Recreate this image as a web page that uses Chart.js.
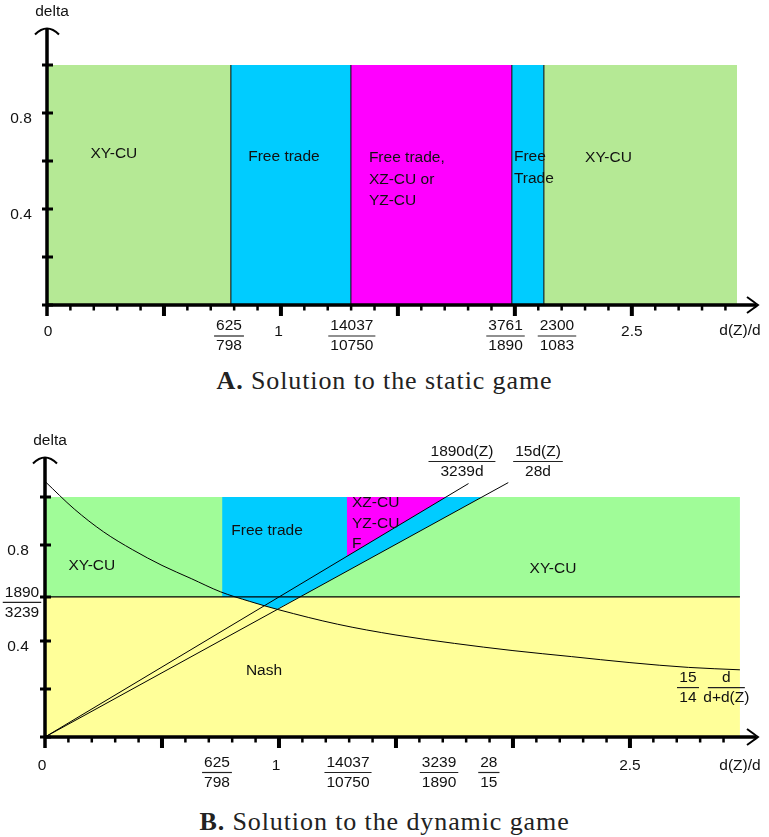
<!DOCTYPE html>
<html>
<head>
<meta charset="utf-8">
<script src="https://cdn.jsdelivr.net/npm/chart.js@4.4.0/dist/chart.umd.min.js"></script>
<style>
body{margin:0;background:#fff;width:769px;height:837px;position:relative;overflow:hidden}
canvas{position:absolute;left:0}
#chartA{top:0}
#chartB{top:400px}
.cap{position:absolute;left:0;width:769px;text-align:center;font-family:"Liberation Serif","Times New Roman",serif;font-size:26px;letter-spacing:0.9px;color:#222;line-height:30px}
</style>
</head>
<body>
<canvas id="chartA" width="769" height="360"></canvas>
<div class="cap" style="top:366px"><b>A.</b> Solution to the static game</div>
<canvas id="chartB" width="769" height="390"></canvas>
<div class="cap" style="top:807px"><b>B.</b> Solution to the dynamic game</div>
<script>
// ---------- panel A : static game ----------
const staticBounds = [0, 0.786, 1.299, 1.987, 2.124, 2.95];
const staticColors = ['#b5e995', '#00ccff', '#ff00ff', '#00ccff', '#b5e995'];
const staticTickPos = [0, 0.778, 0.99, 1.303, 1.96, 2.18, 2.5];
const staticTickText = ['0', ['625', '798'], '1', ['14037', '10750'], ['3761', '1890'], ['2300', '1083'], '2.5'];
const staticYTicks = [0, 0.2, 0.4, 0.6, 0.8, 1];
const staticYLabels = [[0.8, '0.8'], [0.4, '0.4']];

// ---------- panel B : dynamic game ----------
const nashLevel = 0.5835;          // 1890/3239
const dynRight = 2.97;
// 15/14 * d/(d+d(Z))
const curveX = [0, 0.125, 0.25, 0.375, 0.5, 0.625, 0.75, 0.875, 1, 1.25, 1.5, 1.75, 2, 2.25, 2.5, 2.75, 2.97];
const curveY = [1.065, 0.95, 0.855, 0.78, 0.715, 0.66, 0.605, 0.565, 0.53, 0.47, 0.425, 0.39, 0.36, 0.335, 0.31, 0.29, 0.28];
// 1890d(Z)/3239d and 15d(Z)/28d
const steepX = [0, 1.81], steepY = [0, 1.056];
const flatX = [0, 1.98], flatY = [0, 1.06];
// region corners
const blueTopX = [0.757, 1.867], blueTopY = [1, 1];
const blueLowX = [0.757, 1.089, 1.867], blueLowY = [nashLevel, nashLevel, 1];
const magTopX = [1.29, 1.714], magTopY = [1, 1];
const magLowX = [1.29, 1.714], magLowY = [0.753, 1];
const diaTopX = [0.817, 1.089], diaTopY = [nashLevel, nashLevel];
const diaLowX = [0.817, 0.875, 0.99, 1.089], diaLowY = [nashLevel, 0.565, 0.532, nashLevel];
const dynTickPos = [0, 0.735, 0.987, 1.295, 1.684, 1.897, 2.5];
const dynTickText = ['0', ['625', '798'], '1', ['14037', '10750'], ['3239', '1890'], ['28', '15'], '2.5'];
const dynYTicks = [0, 0.2, 0.4, nashLevel, 0.8, 1];
const dynYLabels = [[0.8, '0.8'], [nashLevel, ['1890', '3239']], [0.4, '0.4']];

// common x ticks
const xMajor = [0.5, 1, 1.5, 2, 2.5];
const xMinor = [0.1, 0.2, 0.3, 0.4, 0.6, 0.7, 0.8, 0.9, 1.1, 1.2, 1.3, 1.4, 1.6, 1.7, 1.8, 1.9, 2.1, 2.2, 2.3, 2.4, 2.6, 2.7, 2.8, 2.9];

const FONT = '15.5px "Liberation Sans", Arial, sans-serif';
const INK = '#111';

function pts(xs, ys) {
    return xs.map((v, i) => ({x: v, y: ys[i]}));
}

function line(data, width) {
    return {data: data, borderColor: '#000', borderWidth: width, pointRadius: 0, fill: false};
}

function area(data, color, fill) {
    return {data: data, borderWidth: 0, borderColor: 'rgba(0,0,0,0)', backgroundColor: color, pointRadius: 0, fill: fill};
}

function putText(ctx, s, px, py, align) {
    ctx.textAlign = align || 'center';
    ctx.textBaseline = 'middle';
    ctx.fillText(s, px, py);
}

function putFrac(ctx, num, den, px, py, lw) {
    const w = lw || Math.max(ctx.measureText(num).width, ctx.measureText(den).width) + 4;
    putText(ctx, num, px, py - 9.5);
    putText(ctx, den, px, py + 10.5);
    ctx.beginPath();
    ctx.moveTo(px - w / 2, py + 0.5);
    ctx.lineTo(px + w / 2, py + 0.5);
    ctx.lineWidth = 1.2;
    ctx.stroke();
}

// axes, arrows, ticks and all the text
function decor(spec) {
    return {
        id: 'decor',
        afterDatasetsDraw(chart) {
            const ctx = chart.ctx;
            const sx = chart.scales.x, sy = chart.scales.y;
            const x0 = sx.getPixelForValue(0), y0 = sy.getPixelForValue(0);
            const xEnd = sx.getPixelForValue(sx.max), yTop = sy.getPixelForValue(sy.max);
            ctx.save();
            ctx.strokeStyle = '#000';
            ctx.lineCap = 'butt';

            ctx.lineWidth = 3.5;
            ctx.beginPath();
            ctx.moveTo(x0, y0); ctx.lineTo(xEnd - 1, y0);
            ctx.moveTo(x0, y0 + 11); ctx.lineTo(x0, yTop);
            ctx.stroke();

            ctx.lineWidth = 2;
            ctx.beginPath();
            ctx.moveTo(xEnd - 10, y0 - 8);
            ctx.quadraticCurveTo(xEnd - 3, y0 - 3, xEnd + 1, y0);
            ctx.quadraticCurveTo(xEnd - 3, y0 + 3, xEnd - 10, y0 + 8);
            ctx.moveTo(x0 - 12, yTop + 5.5);
            ctx.quadraticCurveTo(x0, yTop - 6.5, x0 + 12, yTop + 5.5);
            ctx.stroke();

            // x ticks
            ctx.lineWidth = 4;
            ctx.beginPath();
            xMajor.forEach(v => { const p = sx.getPixelForValue(v); ctx.moveTo(p, y0); ctx.lineTo(p, y0 + 11); });
            ctx.stroke();
            ctx.lineWidth = 2.5;
            ctx.beginPath();
            xMinor.forEach(v => { const p = sx.getPixelForValue(v); ctx.moveTo(p, y0); ctx.lineTo(p, y0 + 5.5); });
            ctx.stroke();
            // y ticks
            ctx.lineWidth = 3;
            ctx.beginPath();
            spec.yTicks.forEach(v => { const p = sy.getPixelForValue(v); ctx.moveTo(x0 - 5, p); ctx.lineTo(x0 + 6, p); });
            ctx.stroke();

            ctx.font = FONT;
            ctx.fillStyle = INK;
            ctx.strokeStyle = '#222';
            spec.tickPos.forEach((v, i) => {
                const p = sx.getPixelForValue(v) + (v === 0 ? spec.zeroShift : 0);
                const t = spec.tickText[i];
                if (Array.isArray(t)) putFrac(ctx, t[0], t[1], p, y0 + spec.fracOff);
                else putText(ctx, t, p, y0 + spec.textOff);
            });
            spec.yLabels.forEach(([v, t]) => {
                const p = sy.getPixelForValue(v) + 6;
                if (Array.isArray(t)) putFrac(ctx, t[0], t[1], x0 - 23, p - 1);
                else putText(ctx, t, x0 - spec.yLabOff, p);
            });
            putText(ctx, 'delta', x0 + 5, yTop - 17);
            putText(ctx, 'd(Z)/d', xEnd - 17, y0 + spec.titleOff);

            spec.notes.forEach(n => {
                const px = sx.getPixelForValue(n.x), py = sy.getPixelForValue(n.y);
                if (n.f) { putFrac(ctx, n.f[0], n.f[1], px, py, n.lw); return; }
                n.t.forEach((s, k) => putText(ctx, s, px, py + k * (n.lh || 21.5), n.align));
            });
            ctx.restore();
        }
    };
}

function baseOptions(xMax, yMax, pad) {
    return {
        responsive: false,
        animation: false,
        layout: {padding: pad},
        plugins: {legend: {display: false}, tooltip: {enabled: false}},
        elements: {line: {tension: 0}},
        scales: {
            x: {type: 'linear', min: 0, max: xMax, display: false},
            y: {type: 'linear', min: 0, max: yMax, display: false}
        }
    };
}

// ---- build A ----
const dsA = [];
staticBounds.slice(1, -1).forEach(b => dsA.push(line(pts([b, b], [0, 1]), 1)));
for (let i = 0; i < staticColors.length; i++) {
    dsA.push(area(pts([staticBounds[i], staticBounds[i + 1]], [1, 1]), staticColors[i], 'origin'));
}

new Chart(document.getElementById('chartA'), {
    type: 'line',
    data: {datasets: dsA},
    options: baseOptions(3.035, 1.15, {left: 47, right: 12, top: 29, bottom: 55}),
    plugins: [decor({
        yTicks: staticYTicks, yLabels: staticYLabels, yLabOff: 26,
        tickPos: staticTickPos, tickText: staticTickText,
        fracOff: 30.5, textOff: 27, titleOff: 26, zeroShift: 1,
        notes: [
            {t: ['XY-CU'], x: 0.286, y: 0.629},
            {t: ['Free trade'], x: 1.013, y: 0.617},
            {t: ['Free trade,', 'XZ-CU or', 'YZ-CU'], x: 1.376, y: 0.6125, align: 'left'},
            {t: ['Free', 'Trade'], x: 1.996, y: 0.617, align: 'left'},
            {t: ['XY-CU'], x: 2.40, y: 0.6125}
        ]
    })]
});

// ---- build B ----
const curve = line(pts(curveX, curveY), 1);
curve.cubicInterpolationMode = 'monotone';
const dsB = [
    curve,                                                        // 0
    line(pts(steepX, steepY), 1),                                 // 1
    line(pts(flatX, flatY), 1),                                   // 2
    line(pts([0, dynRight], [nashLevel, nashLevel]), 1.2),        // 3
    area(pts(magTopX, magTopY), '#ff00ff', 5),                    // 4
    area(pts(magLowX, magLowY), 'rgba(0,0,0,0)', false),          // 5
    area(pts(blueTopX, blueTopY), '#00ccff', 7),                  // 6
    area(pts(blueLowX, blueLowY), 'rgba(0,0,0,0)', false),        // 7
    area(pts(diaTopX, diaTopY), '#00ccff', 9),                    // 8
    area(pts(diaLowX, diaLowY), 'rgba(0,0,0,0)', false),          // 9
    area(pts([0, dynRight], [1, 1]), '#a0fc98', {value: nashLevel}), // 10
    area(pts([0, dynRight], [nashLevel, nashLevel]), '#ffff99', 'origin') // 11
];

new Chart(document.getElementById('chartB'), {
    type: 'line',
    data: {datasets: dsB},
    options: baseOptions(3.043, 1.1625, {left: 45, right: 12, top: 58, bottom: 53}),
    plugins: [decor({
        yTicks: dynYTicks, yLabels: dynYLabels, yLabOff: 27,
        tickPos: dynTickPos, tickText: dynTickText,
        fracOff: 35, textOff: 29, titleOff: 29, zeroShift: -3,
        notes: [
            {t: ['XY-CU'], x: 0.20, y: 0.7125},
            {t: ['Free trade'], x: 0.949, y: 0.858},
            {t: ['XZ-CU', 'YZ-CU', 'F'], x: 1.312, y: 0.975, align: 'left', lh: 20.5},
            {t: ['XY-CU'], x: 2.171, y: 0.70},
            {t: ['Nash'], x: 0.936, y: 0.275},
            {f: ['15', '14'], x: 2.748, y: 0.208, lw: 22},
            {f: ['d', 'd+d(Z)'], x: 2.912, y: 0.208, lw: 37},
            {f: ['1890d(Z)', '3239d'], x: 1.782, y: 1.15},
            {f: ['15d(Z)', '28d'], x: 2.107, y: 1.15}
        ]
    })]
});
</script>
</body>
</html>
